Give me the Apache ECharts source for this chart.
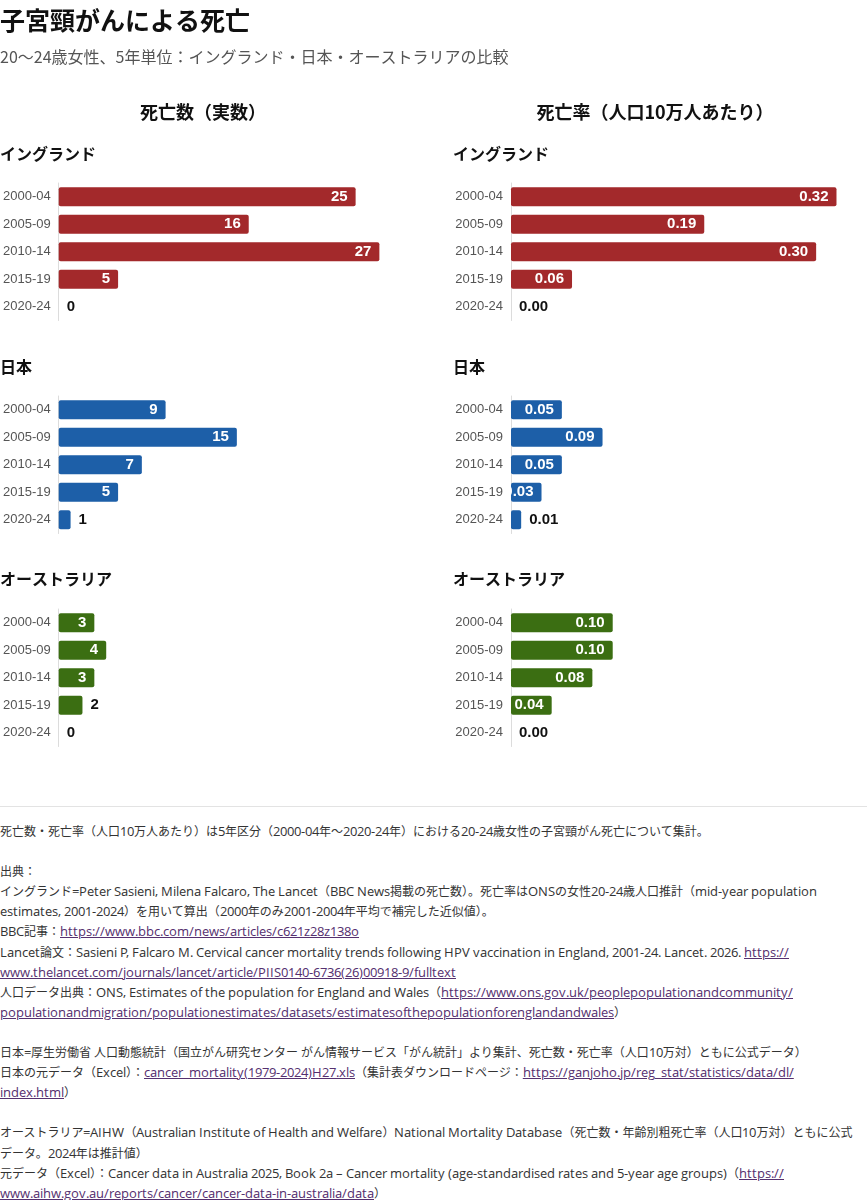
<!DOCTYPE html>
<html>
<head>
    <meta charset="utf-8">
    <title>子宮頸がんによる死亡</title>
    <script src="https://cdn.jsdelivr.net/npm/echarts@6/dist/echarts.min.js"></script>
    <style>
        /*出典の欧文は少し大きめに*/
        @font-face {
            font-family: "FootLatin";
            src: local("Open Sans"), local("Open Sans Regular"), local("OpenSans-Regular");
            size-adjust: 107%;
            unicode-range: U+0000-00FF, U+2013, U+2019;
        }

        body {
            margin: 0;
            background: #fff;
            font-family: "Noto Sans CJK JP", sans-serif;
        }

        #main {
            width: 867px;
            height: 806px;
        }

        /*出典のテキスト*/
        .note {
            border-top: 1px solid #e3e3e3;
            padding-top: 14px;
            font-size: 12px;
            line-height: 20.1px;
            color: #333;
            white-space: nowrap;
            font-family: "FootLatin", "Noto Sans CJK JP", sans-serif;
        }

        .note a {
            color: #55306f;
            text-decoration: underline;
        }
    </style>
</head>
<body>
<div id="main"></div>
<div class="note">
    死亡数・死亡率（人口10万人あたり）は5年区分（2000-04年〜2020-24年）における20-24歳女性の子宮頸がん死亡について集計。<br>
    <br>
    出典：<br>
    イングランド=Peter Sasieni, Milena Falcaro, The Lancet（BBC News掲載の死亡数）。死亡率はONSの女性20-24歳人口推計（mid-year population<br>
    estimates, 2001-2024）を用いて算出（2000年のみ2001-2004年平均で補完した近似値）。<br>
    BBC記事：<a>https://www.bbc.com/news/articles/c621z28z138o</a><br>
    Lancet論文：Sasieni P, Falcaro M. Cervical cancer mortality trends following HPV vaccination in England, 2001-24. Lancet. 2026. <a>https://<br>
    www.thelancet.com/journals/lancet/article/PIIS0140-6736(26)00918-9/fulltext</a><br>
    人口データ出典：ONS, Estimates of the population for England and Wales（<a>https://www.ons.gov.uk/peoplepopulationandcommunity/<br>
    populationandmigration/populationestimates/datasets/estimatesofthepopulationforenglandandwales</a>）<br>
    <br>
    日本=厚生労働省 人口動態統計（国立がん研究センター がん情報サービス「がん統計」より集計、死亡数・死亡率（人口10万対）ともに公式データ）<br>
    日本の元データ（Excel）：<a>cancer_mortality(1979-2024)H27.xls</a>（集計表ダウンロードページ：<a>https://ganjoho.jp/reg_stat/statistics/data/dl/<br>
    index.html</a>）<br>
    <br>
    オーストラリア=AIHW（Australian Institute of Health and Welfare）National Mortality Database（死亡数・年齢別粗死亡率（人口10万対）ともに公式<br>
    データ。2024年は推計値）<br>
    元データ（Excel）：Cancer data in Australia 2025, Book 2a – Cancer mortality (age-standardised rates and 5-year age groups)（<a>https://<br>
    www.aihw.gov.au/reports/cancer/cancer-data-in-australia/data</a>）
</div>
<script>
    // 5年区分
    var periods = ['2000-04', '2005-09', '2010-14', '2015-19', '2020-24'];
    var countries = ['イングランド', '日本', 'オーストラリア'];

    // 死亡数（実数）
    var englandDeaths = [25, 16, 27, 5, 0];
    var japanDeaths = [9, 15, 7, 5, 1];
    var australiaDeaths = [3, 4, 3, 2, 0];

    // 死亡率（人口10万人あたり）
    var englandRates = [0.32, 0.19, 0.30, 0.06, 0.00];
    var japanRates = [0.05, 0.09, 0.05, 0.03, 0.01];
    var australiaRates = [0.10, 0.10, 0.08, 0.04, 0.00];

    var colors = ['#a3292b', '#1d5fa8', '#3b6e12'];
    var deathsList = [englandDeaths, japanDeaths, australiaDeaths];
    var ratesList = [englandRates, japanRates, australiaRates];

    var font = '"Noto Sans CJK JP", sans-serif';
    var numFont = '"Liberation Sans", "Noto Sans CJK JP", sans-serif';
    var rowTops = [183, 396, 609];
    var labelTops = [154, 367, 579];
    var cols = [
        {left: 58, width: 357, max: 30, digits: 0},
        {left: 511, width: 356, max: 0.35, digits: 2}
    ];

    var myChart = echarts.init(document.getElementById('main'));

    var grids = [], xAxes = [], yAxes = [], series = [];
    var graphics = [
        {type: 'text', x: 0, y: 20, style: {text: '子宮頸がんによる死亡', fill: '#111', font: 'bold 25px ' + font, textVerticalAlign: 'middle'}},
        {type: 'text', x: 0, y: 57, style: {text: '20〜24歳女性、5年単位：イングランド・日本・オーストラリアの比較', fill: '#555', font: '16px ' + font, textVerticalAlign: 'middle'}},
        {type: 'text', x: 203, y: 112, style: {text: '死亡数（実数）', fill: '#111', font: 'bold 18px ' + font, textAlign: 'center', textVerticalAlign: 'middle'}},
        {type: 'text', x: 655, y: 112, style: {text: '死亡率（人口10万人あたり）', fill: '#111', font: 'bold 18px ' + font, textAlign: 'center', textVerticalAlign: 'middle'}}
    ];

    for (var r = 0; r < 3; r++) {
        for (var c = 0; c < 2; c++) {
            graphics.push({
                type: 'text', x: c === 0 ? 0 : 453, y: labelTops[r],
                style: {text: countries[r], fill: '#111', font: 'bold 16px ' + font, textVerticalAlign: 'middle'}
            });
        }
        [deathsList[r], ratesList[r]].forEach(function (vals, c) {
            var col = cols[c];
            var idx = grids.length;
            grids.push({left: col.left, top: rowTops[r], width: col.width, height: 137.5});
            xAxes.push({gridIndex: idx, type: 'value', min: 0, max: col.max, show: false});
            yAxes.push({
                gridIndex: idx, type: 'category', data: periods, inverse: true,
                axisLine: {show: true, lineStyle: {color: '#dcdcdc', width: 1}},
                axisTick: {show: false},
                axisLabel: {color: '#555', fontSize: 13, margin: 8, fontFamily: numFont}
            });
            series.push({
                type: 'bar', xAxisIndex: idx, yAxisIndex: idx, barWidth: 19,
                itemStyle: {color: colors[r], borderRadius: 2},
                data: vals.map(function (v) {
                    // 棒が短いときは数値を外側に出す
                    var inside = v / col.max * col.width >= 28;
                    return {
                        value: v,
                        label: {
                            show: true,
                            position: inside ? 'insideRight' : 'right',
                            distance: 8,
                            color: inside ? '#fff' : '#111',
                            fontSize: 15,
                            fontWeight: 'bold',
                            fontFamily: numFont,
                            formatter: function (p) {
                                return p.value.toFixed(col.digits);
                            }
                        }
                    };
                })
            });
        });
    }

    var option = {
        animation: false,
        textStyle: {fontFamily: font},
        graphic: graphics,
        grid: grids,
        xAxis: xAxes,
        yAxis: yAxes,
        series: series
    };
    myChart.setOption(option);
</script>
</body>
</html>
